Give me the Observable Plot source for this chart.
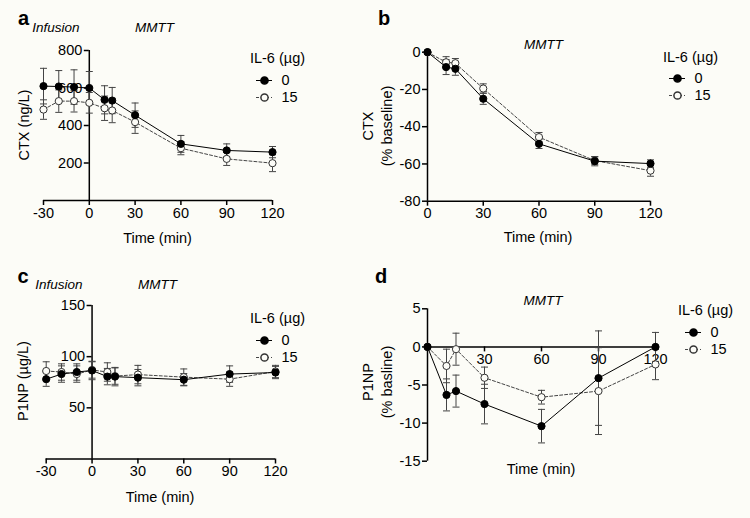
<!DOCTYPE html>
<html><head><meta charset="utf-8">
<script src="https://cdn.jsdelivr.net/npm/d3@7"></script>
<script src="https://cdn.jsdelivr.net/npm/@observablehq/plot@0.6"></script>
<style>
html,body{margin:0;padding:0;background:#fcfcf7;}
#root{position:relative;width:750px;height:518px;overflow:hidden;font-family:"Liberation Sans",Arial,sans-serif;color:#000;}
.t{position:absolute;white-space:nowrap;line-height:1;transform:translate(-50%,-50%);}
.r{transform:translate(-50%,-50%) rotate(-90deg);}
.it{font-style:italic;font-size:13.5px;}
.lt{font-weight:bold;font-size:20px;}
.lab{font-size:14.5px;}
</style></head><body><div id="root"></div>
<script>
// ---------------- data ----------------
const groups = ["0", "15"];
const timesInf = [-30, -20, -10, 0, 10, 15, 30, 60, 90, 120];
const timesMMTT = [0, 10, 15, 30, 60, 90, 120];
const ticksInf = [-30, 0, 30, 60, 90, 120];
const ticksMMTT = [0, 30, 60, 90, 120];
const ticksD = [30, 60, 90, 120];

// a: CTX (ng/L)
const ctx0 = [610, 608, 605, 600, 537, 533, 455, 302, 267, 258];
const ctx0Sem = [95, 85, 92, 88, 75, 70, 65, 45, 35, 30];
const ctx15 = [485, 530, 530, 521, 492, 480, 418, 279, 222, 199];
const ctx15Sem = [52, 60, 58, 55, 65, 65, 60, 35, 35, 45];
const ctxTicks = [200, 400, 600, 800];

// b: CTX (% baseline)
const ctxPct0 = [0, -8.0, -8.9, -25, -49.2, -58.5, -59.8];
const ctxPct0Sem = [0, 4, 3.5, 3, 2.5, 2.5, 2];
const ctxPct15 = [0, -5.4, -5.9, -19.5, -45.6, -58.2, -63.6];
const ctxPct15Sem = [0, 3, 2.5, 2.5, 2.5, 2, 3];
const ctxPctTicks = [0, -20, -40, -60, -80];

// c: P1NP (µg/L)
const p1np0 = [78, 83, 85, 86.5, 80.5, 80.5, 79.5, 77.5, 83, 84.5];
const p1np0Sem = [7, 8, 8, 9, 8, 9, 8, 6, 8, 6];
const p1np15 = [86, 85, 83, 87, 85, 81, 82.5, 80, 78, 85.5];
const p1np15Sem = [9, 8, 8, 8, 9, 8, 9, 8, 7, 6];
const p1npTicks = [50, 100, 150];

// d: P1NP (% baseline)
const p1npPct0 = [0, -6.3, -5.8, -7.5, -10.4, -4.1, 0];
const p1npPct0Sem = [0, 2.1, 2.1, 2.6, 2.2, 6.2, 1.9];
const p1npPct15 = [0, -2.5, -0.3, -4.05, -6.6, -5.8, -2.3];
const p1npPct15Sem = [0, 2.2, 2.1, 1.4, 0.9, 5.7, 2.0];
const p1npPctTicks = [5, 0, -5, -10, -15];

// ---------------- helpers ----------------
const BG = "#fcfcf7";
const FONT = "'Liberation Sans', Arial, sans-serif";
const root = document.getElementById("root");
const rows = (times, v, e) => times.map((t, i) => ({t, v: v[i], e: e[i]}));
const fmt = d => String(d);
const cap = {draw(ctx, size) { const w = Math.sqrt(size / Math.PI); ctx.moveTo(-w, 0); ctx.lineTo(w, 0); }};
const styles = {
  "0": {filled: true, stroke: "#000", dash: null},
  "15": {filled: false, stroke: "#444", dash: "3,2"}
};

function seriesMarks(data, g) {
  const s = styles[g];
  const eb = data.filter(d => d.e > 0);
  return [
    Plot.ruleX(eb, {x: "t", y1: d => d.v - d.e, y2: d => d.v + d.e, stroke: "#444", strokeWidth: 1}),
    Plot.dot(eb, {x: "t", y: d => d.v + d.e, symbol: cap, r: 3.5, fill: "none", stroke: "#444", strokeWidth: 1}),
    Plot.dot(eb, {x: "t", y: d => d.v - d.e, symbol: cap, r: 3.5, fill: "none", stroke: "#444", strokeWidth: 1}),
    Plot.line(data, {x: "t", y: "v", stroke: s.stroke, strokeWidth: 1, strokeDasharray: s.dash})
  ];
}
function dotMarks(data, g) {
  const s = styles[g];
  return Plot.dot(data, {x: "t", y: "v", r: 3.6, fill: s.filled ? "#000" : BG, stroke: s.filled ? "#000" : "#333", strokeWidth: 1});
}

function panel(c) {
  const marks = [
    Plot.axisY({x: c.yAt, ticks: c.yTicks, tickFormat: fmt, tickSize: 5, tickPadding: 2, label: null, fontSize: 14.5, strokeWidth: 1.5}),
    Plot.axisX({y: c.xAt, ticks: c.xTicks, tickFormat: fmt, tickSize: 5, tickPadding: 2, label: null, fontSize: 14.5, strokeWidth: 1.5}),
    Plot.ruleY([c.xAt], {stroke: "#000", strokeWidth: 1.5}),
    Plot.ruleX([c.yAt], {stroke: "#000", strokeWidth: 1.5})
  ];
  c.series.forEach(([d, g]) => marks.push(...seriesMarks(d, g)));
  c.series.forEach(([d, g]) => marks.push(dotMarks(d, g)));
  const p = Plot.plot({
    width: c.width, height: c.height,
    marginLeft: c.ml, marginRight: c.width - c.xr, marginTop: c.mt, marginBottom: c.height - c.yb,
    x: {domain: c.xDomain, axis: null},
    y: {domain: c.yDomain, axis: null},
    style: {background: "transparent", position: "absolute", left: c.left + "px", top: c.top + "px", overflow: "visible", fontFamily: FONT, fontSize: "14.5px", color: "#000"},
    marks
  });
  root.appendChild(p);
}

function legend(x, y0, gap) {
  const items = groups.map(g => ({g}));
  const marks = [];
  groups.forEach(g => {
    const s = styles[g];
    const d = items.filter(i => i.g === g);
    marks.push(Plot.ruleY(d, {y: "g", stroke: s.stroke, strokeWidth: 1, strokeDasharray: s.dash}));
    marks.push(Plot.dot(d, {y: "g", r: 3.6, fill: s.filled ? "#000" : BG, stroke: s.filled ? "#000" : "#333"}));
  });
  marks.push(Plot.text(items, {y: "g", text: "g", frameAnchor: "right", dx: 9, textAnchor: "start", fontSize: 14.5, fill: "#000"}));
  const p = Plot.plot({
    width: 60, height: gap + 12, marginLeft: 0, marginRight: 44, marginTop: 6, marginBottom: 6,
    y: {type: "point", domain: groups, padding: 0, axis: null},
    style: {background: "transparent", position: "absolute", left: x + "px", top: (y0 - 6) + "px", overflow: "visible", fontFamily: FONT, fontSize: "14.5px", color: "#000"},
    marks
  });
  root.appendChild(p);
}

function txt(s, x, y, cls) {
  const el = document.createElement("div");
  el.className = "t " + cls;
  el.textContent = s;
  el.style.left = x + "px";
  el.style.top = y + "px";
  root.appendChild(el);
}

// ---------------- panels ----------------
panel({left: 0, top: 0, width: 375, height: 259, ml: 43, xr: 272, mt: 50, yb: 200,
  xDomain: [-30, 120], yDomain: [0, 800], xTicks: ticksInf, yTicks: ctxTicks, xAt: 0, yAt: 0,
  series: [[rows(timesInf, ctx15, ctx15Sem), "15"], [rows(timesInf, ctx0, ctx0Sem), "0"]]});

panel({left: 0, top: 0, width: 750, height: 259, ml: 427, xr: 650, mt: 51.7, yb: 200.7,
  xDomain: [0, 120], yDomain: [-80, 0], xTicks: ticksMMTT, yTicks: ctxPctTicks, xAt: -80, yAt: 0,
  series: [[rows(timesMMTT, ctxPct15, ctxPct15Sem), "15"], [rows(timesMMTT, ctxPct0, ctxPct0Sem), "0"]]});

panel({left: 0, top: 0, width: 375, height: 518, ml: 45.7, xr: 275, mt: 305, yb: 458.5,
  xDomain: [-30, 120], yDomain: [0, 150], xTicks: ticksInf, yTicks: p1npTicks, xAt: 0, yAt: 0,
  series: [[rows(timesInf, p1np15, p1np15Sem), "15"], [rows(timesInf, p1np0, p1np0Sem), "0"]]});

panel({left: 0, top: 0, width: 750, height: 518, ml: 427, xr: 655, mt: 308.3, yb: 460.7,
  xDomain: [0, 120], yDomain: [-15, 5], xTicks: ticksD, yTicks: p1npPctTicks, xAt: 0, yAt: 0,
  series: [[rows(timesMMTT, p1npPct15, p1npPct15Sem), "15"], [rows(timesMMTT, p1npPct0, p1npPct0Sem), "0"]]});

// legends
legend(256, 80, 17.5);
legend(669, 78.3, 17.4);
legend(256, 340, 17.5);
legend(685, 331.7, 17.6);

// texts
txt("a", 23.5, 18, "lt");
txt("b", 384, 18, "lt");
txt("c", 23, 276, "lt");
txt("d", 381, 276, "lt");
txt("Infusion", 55.8, 28.3, "it");
txt("MMTT", 154.6, 28, "it");
txt("MMTT", 543.5, 45, "it");
txt("Infusion", 58.8, 284.7, "it");
txt("MMTT", 157.5, 285, "it");
txt("MMTT", 543, 300.7, "it");
txt("Time (min)", 157.5, 238, "lab");
txt("Time (min)", 538, 236.7, "lab");
txt("Time (min)", 160, 496.7, "lab");
txt("Time (min)", 541, 469, "lab");
txt("CTX (ng/L)", 23.5, 125, "lab r");
txt("CTX", 368, 126, "lab r");
txt("(% baseline)", 387, 126, "lab r");
txt("P1NP (µg/L)", 22.5, 381, "lab r");
txt("P1NP", 368, 382, "lab r");
txt("(% basline)", 387, 382, "lab r");
txt("IL-6 (µg)", 277.5, 58, "lab");
txt("IL-6 (µg)", 690.5, 56.7, "lab");
txt("IL-6 (µg)", 277.5, 318, "lab");
txt("IL-6 (µg)", 705.5, 310, "lab");
</script></body></html>
